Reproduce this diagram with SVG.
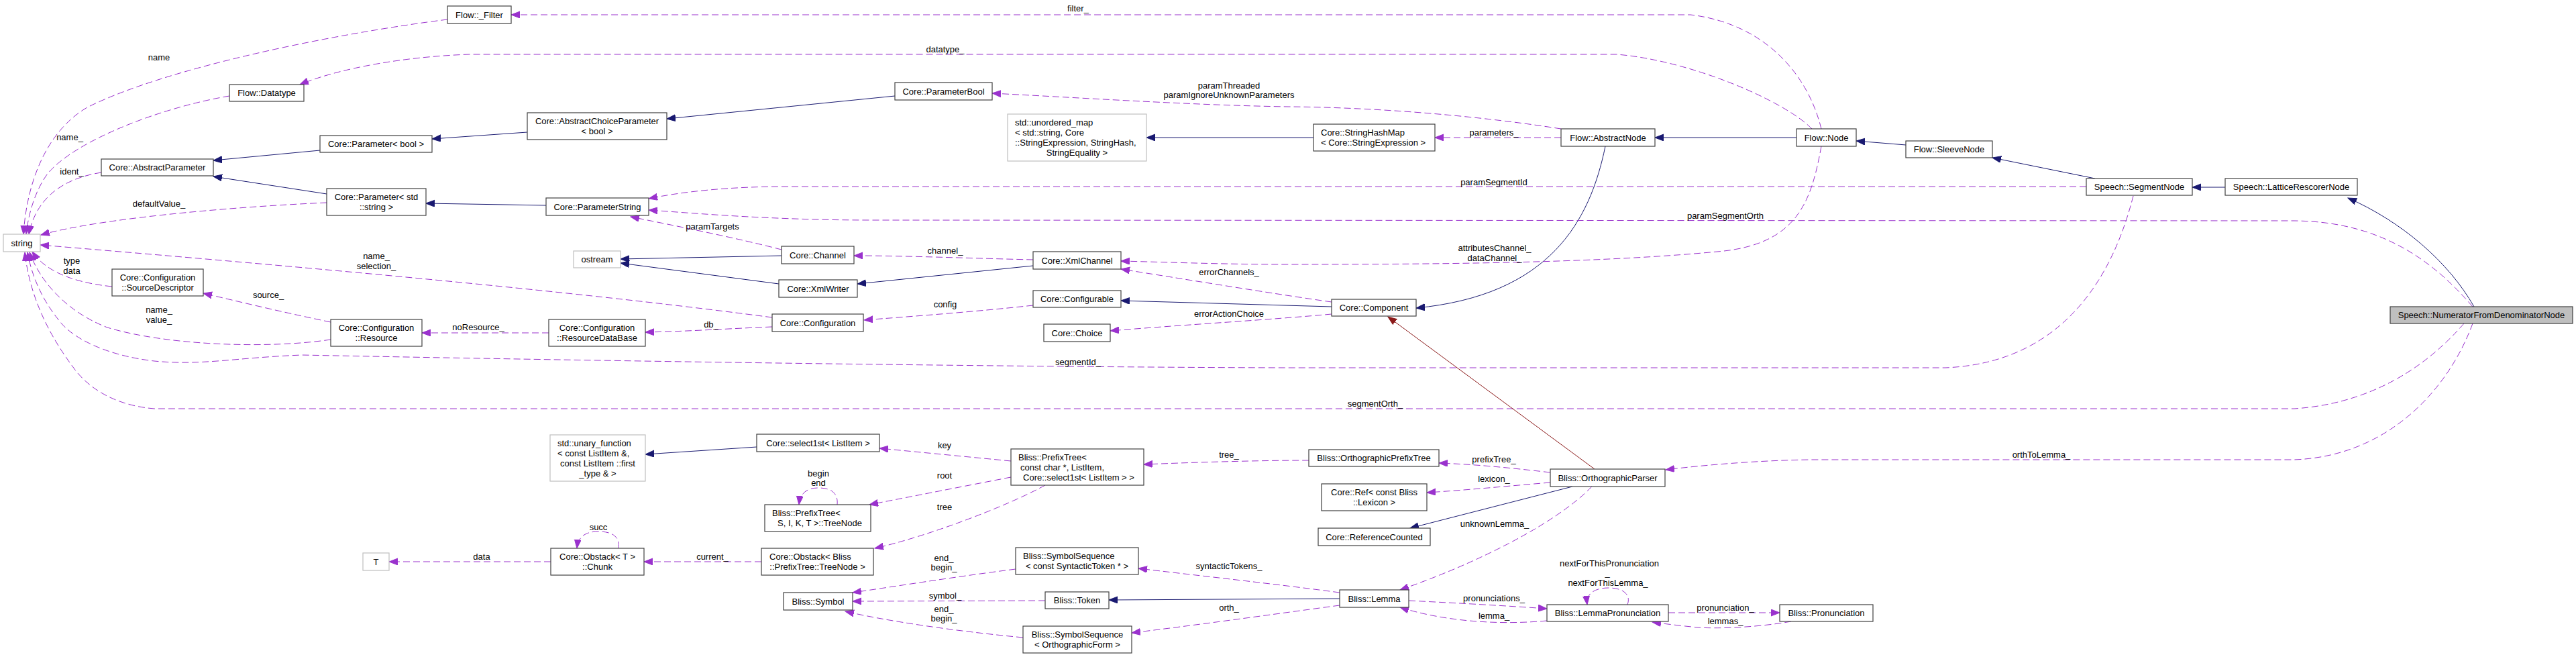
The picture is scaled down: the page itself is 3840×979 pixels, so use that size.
<svg xmlns="http://www.w3.org/2000/svg" width="3840" height="979" viewBox="0 0 3840 979">
<style>
text{font-family:"Liberation Sans",Arial,Helvetica,sans-serif;font-size:13px;fill:#000}
.n rect{fill:#fff;stroke:#404040;stroke-width:1.2}
.g rect{fill:#fff;stroke:#bfbfbf;stroke-width:1.2}
.t rect{fill:#bfbfbf;stroke:#404040;stroke-width:1.2}
.c{text-anchor:middle}
.s{text-anchor:start}
.u{fill:none;stroke:#9a32cd;stroke-width:1;stroke-dasharray:10,5;marker-end:url(#ap)}
.i{fill:none;stroke:#191970;stroke-width:1;marker-end:url(#ab)}
.p{fill:none;stroke:#8b1a1a;stroke-width:1;marker-end:url(#ar)}
.lb text{text-anchor:middle}
</style>
<defs>
<marker id="ap" markerUnits="userSpaceOnUse" markerWidth="14" markerHeight="12" refX="13" refY="5" orient="auto"><path d="M0,0 L13,5 L0,10 z" fill="#9a32cd" stroke="#9a32cd" stroke-width="1"/></marker>
<marker id="ab" markerUnits="userSpaceOnUse" markerWidth="14" markerHeight="12" refX="13" refY="5" orient="auto"><path d="M0,0 L13,5 L0,10 z" fill="#191970" stroke="#191970" stroke-width="1"/></marker>
<marker id="ar" markerUnits="userSpaceOnUse" markerWidth="14" markerHeight="12" refX="13" refY="5" orient="auto"><path d="M0,0 L13,5 L0,10 z" fill="#8b1a1a" stroke="#8b1a1a" stroke-width="1"/></marker>
</defs>
<rect width="3840" height="979" fill="#fff"/>

<g id="edges">
<path class="u" d="M2715,192 C2695,110 2630,35 2520,22 L762,22"/>
<path class="u" d="M667,29 C500,50 250,100 130,160 C70,195 40,270 35,349"/>
<path class="u" d="M2701,192 C2660,150 2520,90 2410,81 L700,81 C610,84 510,100 447,126"/>
<path class="u" d="M342,143 C240,160 110,210 70,260 C52,285 42,320 39,349"/>
<path class="u" d="M151,257 C100,265 55,290 43,349"/>
<path class="i" d="M477,224 L318,239"/>
<path class="i" d="M487,289 L318,263"/>
<path class="u" d="M487,302 C350,308 150,325 61,350"/>
<path class="i" d="M786,197 L644,207"/>
<path class="i" d="M1334,143 L994,177"/>
<path class="u" d="M2327,192 C2200,172 2050,160 1920,159 C1780,157 1600,145 1479,139"/>
<path class="i" d="M1958,205 L1709,205"/>
<path class="u" d="M2327,205 L2139,205"/>
<path class="i" d="M2678,205 L2467,205"/>
<path class="i" d="M2841,216 L2767,210"/>
<path class="i" d="M3123,266 L2970,235"/>
<path class="i" d="M3317,279 L3268,279"/>
<path class="i" d="M3688,457 C3650,390 3580,330 3500,295"/>
<path class="i" d="M2393,218 C2370,330 2310,440 2111,459"/>
<path class="u" d="M1985,450 C1900,438 1760,415 1671,401"/>
<path class="i" d="M1985,457 L1671,448"/>
<path class="u" d="M1985,468 C1900,476 1750,485 1655,493"/>
<path class="u" d="M2715,218 C2700,300 2680,365 2560,375 C2400,390 2200,394 1920,394 C1820,394 1720,390 1671,389"/>
<path class="u" d="M3110,278 L1171,278 C1090,278 1020,285 967,296"/>
<path class="u" d="M3686,457 C3620,380 3540,330 3420,329 L1300,328 C1150,328 1040,318 967,313"/>
<path class="u" d="M1165,372 C1100,355 1000,335 940,323"/>
<path class="u" d="M1540,387 C1450,385 1350,381 1273,381"/>
<path class="i" d="M1540,396 L1278,423"/>
<path class="i" d="M1165,381 L925,386"/>
<path class="i" d="M1161,423 L925,392"/>
<path class="i" d="M814,306 L635,303"/>
<path class="u" d="M1151,473 C900,440 600,410 60,365"/>
<path class="u" d="M1151,487 C1080,490 1020,494 962,495"/>
<path class="u" d="M1540,455 C1450,465 1350,472 1288,477"/>
<path class="u" d="M818,496 L629,496"/>
<path class="u" d="M493,480 C420,465 350,448 303,437"/>
<path class="u" d="M167,427 C100,420 65,400 48,375"/>
<path class="u" d="M493,506 C400,520 250,515 160,488 C100,465 60,420 44,376"/>
<path class="u" d="M3180,292 C3155,390 3090,540 2900,548 L1920,548 C1500,547 900,538 450,529 C350,533 300,545 230,538 C160,530 110,505 90,480 C65,450 48,415 41,376"/>
<path class="u" d="M3673,482 C3640,520 3560,600 3420,609 L230,609 C180,605 140,585 115,555 C80,510 45,450 37,376"/>
<path class="u" d="M3686,482 C3650,580 3560,680 3420,685 L2700,685 C2620,686 2540,693 2483,700"/>
<path class="i" d="M1128,666 L962,677"/>
<path class="u" d="M1507,687 L1311,668"/>
<path class="u" d="M1507,711 L1296,752"/>
<path class="u" d="M1558,723 C1500,755 1380,800 1304,817"/>
<path class="u" d="M1135,837 L960,837"/>
<path class="u" d="M821,837 L580,837"/>
<path class="u" d="M922,817 C925,795 905,792 892,792 C875,792 862,798 860,817"/>
<path class="u" d="M1248,752 C1250,732 1235,727 1220,727 C1205,727 1193,733 1191,752"/>
<path class="u" d="M2311,704 C2250,697 2200,692 2145,690"/>
<path class="u" d="M1951,686 C1870,686 1780,689 1705,692"/>
<path class="u" d="M2311,719 C2250,724 2190,730 2127,734"/>
<path class="i" d="M2344,725 L2102,787"/>
<path class="p" d="M2377,699 L2069,472"/>
<path class="u" d="M2373,725 C2320,780 2200,840 2087,879"/>
<path class="i" d="M1997,892 L1653,894"/>
<path class="u" d="M1997,883 C1900,870 1780,857 1697,847"/>
<path class="u" d="M1997,902 C1900,915 1780,932 1687,943"/>
<path class="u" d="M1514,848 C1420,860 1340,873 1271,883"/>
<path class="u" d="M1558,895 L1271,896"/>
<path class="u" d="M1525,950 C1420,940 1320,925 1260,911"/>
<path class="u" d="M2100,895 C2180,899 2250,903 2306,907"/>
<path class="u" d="M2306,925 C2230,932 2150,925 2087,905"/>
<path class="u" d="M2426,901 C2432,885 2418,876 2398,876 C2378,876 2364,884 2366,901"/>
<path class="u" d="M2487,913 L2653,913"/>
<path class="u" d="M2670,926 C2620,935 2560,937 2532,935 C2510,933 2485,930 2463,927"/>
</g>

<g id="labels" class="lb">
<text x="1607" y="16.5">filter_</text>
<text x="1409" y="77.5">datatype_</text>
<text x="237" y="89.5">name</text>
<text x="104" y="208.5">name_</text>
<text x="107" y="259.5">ident_</text>
<text x="237" y="307.5">defaultValue_</text>
<text x="561" y="385.5">name_</text>
<text x="561" y="400.5">selection_</text>
<text x="107" y="392.5">type</text>
<text x="107" y="407.5">data</text>
<text x="400" y="443.5">source_</text>
<text x="237" y="465.5">name_</text>
<text x="237" y="480.5">value_</text>
<text x="1832" y="131.5">paramThreaded</text>
<text x="1832" y="145.5">paramIgnoreUnknownParameters</text>
<text x="2227" y="201.5">parameters_</text>
<text x="2227" y="275.5">paramSegmentId</text>
<text x="2572" y="325.5">paramSegmentOrth</text>
<text x="1062" y="341.5">paramTargets</text>
<text x="1409" y="377.5">channel_</text>
<text x="2228" y="373.5">attributesChannel_</text>
<text x="2228" y="388.5">dataChannel_</text>
<text x="1832" y="409.5">errorChannels_</text>
<text x="1409" y="457.5">config</text>
<text x="1832" y="471.5">errorActionChoice</text>
<text x="713" y="491.5">noResource_</text>
<text x="1060" y="487.5">db_</text>
<text x="1607" y="543.5">segmentId_</text>
<text x="2050" y="605.5">segmentOrth_</text>
<text x="1408" y="667.5">key</text>
<text x="1832" y="681.5">tree_</text>
<text x="3043" y="681.5">orthToLemma_</text>
<text x="2227" y="688.5">prefixTree_</text>
<text x="1220" y="709.5">begin</text>
<text x="1220" y="723.5">end</text>
<text x="1408" y="712.5">root</text>
<text x="2227" y="717.5">lexicon_</text>
<text x="1408" y="759.5">tree</text>
<text x="2228" y="784.5">unknownLemma_</text>
<text x="892" y="789.5">succ</text>
<text x="718" y="833.5">data</text>
<text x="1062" y="833.5">current_</text>
<text x="1407" y="835.5">end_</text>
<text x="1407" y="849.5">begin_</text>
<text x="1832" y="847.5">syntacticTokens_</text>
<text x="2399" y="843.5">nextForThisPronunciation</text>
<text x="2396" y="858">_</text>
<text x="2397" y="872.5">nextForThisLemma_</text>
<text x="1409" y="891.5">symbol_</text>
<text x="2227" y="895.5">pronunciations_</text>
<text x="2572" y="909.5">pronunciation_</text>
<text x="1832" y="909.5">orth_</text>
<text x="1407" y="911.5">end_</text>
<text x="1407" y="925.5">begin_</text>
<text x="2227" y="921.5">lemma_</text>
<text x="2572" y="929.5">lemmas_</text>
</g>

<g id="n_numerator" class="t"><rect x="3563" y="457" width="272" height="25"/><text class="c" x="3699" y="474">Speech::NumeratorFromDenominatorNode</text></g>
<g id="n_lattice" class="n"><rect x="3317" y="266" width="197" height="25"/><text class="c" x="3415.5" y="283">Speech::LatticeRescorerNode</text></g>
<g id="n_segmentnode" class="n"><rect x="3110" y="266" width="158" height="25"/><text class="c" x="3189" y="283">Speech::SegmentNode</text></g>
<g id="n_sleevenode" class="n"><rect x="2841" y="210" width="129" height="25"/><text class="c" x="2905.5" y="227">Flow::SleeveNode</text></g>
<g id="n_flownode" class="n"><rect x="2678" y="192" width="89" height="26"/><text class="c" x="2722.5" y="209.5">Flow::Node</text></g>
<g id="n_abstractnode" class="n"><rect x="2327" y="192" width="140" height="26"/><text class="c" x="2397" y="209.5">Flow::AbstractNode</text></g>
<g id="n_stringhashmap" class="n"><rect x="1958" y="185" width="181" height="40"/><text class="s" x="1969" y="202">Core::StringHashMap</text><text class="s" x="1969" y="217">&lt; Core::StringExpression &gt;</text></g>
<g id="n_unordered_map" class="g"><rect x="1502" y="170" width="207" height="70"/><text class="s" x="1513" y="187">std::unordered_map</text><text class="s" x="1513" y="202">&lt; std::string, Core</text><text class="s" x="1513" y="217">::StringExpression, StringHash,</text><text class="c" x="1605.5" y="232">StringEquality &gt;</text></g>
<g id="n_parameterbool" class="n"><rect x="1334" y="123" width="145" height="26"/><text class="c" x="1406.5" y="140.5">Core::ParameterBool</text></g>
<g id="n_filter" class="n"><rect x="667" y="9" width="95" height="26"/><text class="c" x="714.5" y="26.5">Flow::_Filter</text></g>
<g id="n_datatype" class="n"><rect x="342" y="126" width="111" height="25"/><text class="c" x="397.5" y="143">Flow::Datatype</text></g>
<g id="n_abstractchoice" class="n"><rect x="786" y="168" width="208" height="40"/><text class="c" x="890" y="185">Core::AbstractChoiceParameter</text><text class="c" x="890" y="200">&lt; bool &gt;</text></g>
<g id="n_parameter_bool" class="n"><rect x="477" y="202" width="167" height="25"/><text class="c" x="560.5" y="219">Core::Parameter&lt; bool &gt;</text></g>
<g id="n_abstractparameter" class="n"><rect x="151" y="237" width="167" height="25"/><text class="c" x="234.5" y="254">Core::AbstractParameter</text></g>
<g id="n_parameter_string" class="n"><rect x="487" y="281" width="148" height="40"/><text class="c" x="561" y="298">Core::Parameter&lt; std</text><text class="c" x="561" y="313">::string &gt;</text></g>
<g id="n_parameterstring" class="n"><rect x="814" y="295" width="153" height="26"/><text class="c" x="890.5" y="312.5">Core::ParameterString</text></g>
<g id="n_string" class="g"><rect x="5" y="349" width="55" height="26"/><text class="c" x="32.5" y="366.5">string</text></g>
<g id="n_ostream" class="g"><rect x="855" y="374" width="70" height="25"/><text class="c" x="890" y="391">ostream</text></g>
<g id="n_channel" class="n"><rect x="1165" y="367" width="108" height="26"/><text class="c" x="1219" y="384.5">Core::Channel</text></g>
<g id="n_xmlwriter" class="n"><rect x="1161" y="417" width="117" height="26"/><text class="c" x="1219.5" y="434.5">Core::XmlWriter</text></g>
<g id="n_xmlchannel" class="n"><rect x="1540" y="375" width="131" height="26"/><text class="c" x="1605.5" y="392.5">Core::XmlChannel</text></g>
<g id="n_configurable" class="n"><rect x="1540" y="433" width="131" height="25"/><text class="c" x="1605.5" y="450">Core::Configurable</text></g>
<g id="n_choice" class="n"><rect x="1556" y="483" width="99" height="26"/><text class="c" x="1605.5" y="500.5">Core::Choice</text></g>
<g id="n_component" class="n"><rect x="1985" y="446" width="126" height="25"/><text class="c" x="2048" y="463">Core::Component</text></g>
<g id="n_configuration" class="n"><rect x="1151" y="468" width="136" height="26"/><text class="c" x="1219" y="485.5">Core::Configuration</text></g>
<g id="n_resourcedb" class="n"><rect x="818" y="476" width="144" height="40"/><text class="c" x="890" y="493">Core::Configuration</text><text class="c" x="890" y="508">::ResourceDataBase</text></g>
<g id="n_sourcedesc" class="n"><rect x="167" y="401" width="136" height="40"/><text class="c" x="235" y="418">Core::Configuration</text><text class="c" x="235" y="433">::SourceDescriptor</text></g>
<g id="n_resource" class="n"><rect x="493" y="476" width="136" height="40"/><text class="c" x="561" y="493">Core::Configuration</text><text class="c" x="561" y="508">::Resource</text></g>
<g id="n_unary_function" class="g"><rect x="820" y="648" width="142" height="69"/><text class="s" x="831" y="664.5">std::unary_function</text><text class="s" x="831" y="679.5">&lt; const ListItem &amp;,</text><text class="c" x="891" y="694.5">const ListItem ::first</text><text class="c" x="891" y="709.5">_type &amp; &gt;</text></g>
<g id="n_select1st" class="n"><rect x="1128" y="647" width="183" height="26"/><text class="c" x="1219.5" y="664.5">Core::select1st&lt; ListItem &gt;</text></g>
<g id="n_treenode" class="n"><rect x="1140" y="752" width="158" height="40"/><text class="s" x="1151" y="769">Bliss::PrefixTree&lt;</text><text class="c" x="1222" y="784">S, I, K, T &gt;::TreeNode</text></g>
<g id="n_chunk" class="n"><rect x="821" y="817" width="139" height="40"/><text class="c" x="890.5" y="834">Core::Obstack&lt; T &gt;</text><text class="c" x="890.5" y="849">::Chunk</text></g>
<g id="n_T" class="g"><rect x="541" y="824" width="39" height="26"/><text class="c" x="560.5" y="841.5">T</text></g>
<g id="n_obstack_treenode" class="n"><rect x="1135" y="817" width="167" height="40"/><text class="s" x="1147" y="834">Core::Obstack&lt; Bliss</text><text class="c" x="1218.5" y="849">::PrefixTree::TreeNode &gt;</text></g>
<g id="n_symbol" class="n"><rect x="1168" y="883" width="103" height="26"/><text class="c" x="1219.5" y="900.5">Bliss::Symbol</text></g>
<g id="n_prefixtree" class="n"><rect x="1507" y="669" width="198" height="54"/><text class="s" x="1518" y="685.5">Bliss::PrefixTree&lt;</text><text class="s" x="1521" y="700.5">const char *, ListItem,</text><text class="c" x="1608" y="715.5">Core::select1st&lt; ListItem &gt; &gt;</text></g>
<g id="n_symseq_synt" class="n"><rect x="1514" y="816" width="183" height="40"/><text class="s" x="1525" y="833">Bliss::SymbolSequence</text><text class="c" x="1605.5" y="848">&lt; const SyntacticToken * &gt;</text></g>
<g id="n_token" class="n"><rect x="1558" y="882" width="95" height="25"/><text class="c" x="1605.5" y="899">Bliss::Token</text></g>
<g id="n_symseq_orth" class="n"><rect x="1525" y="933" width="162" height="40"/><text class="c" x="1606" y="950">Bliss::SymbolSequence</text><text class="c" x="1606" y="965">&lt; OrthographicForm &gt;</text></g>
<g id="n_orthprefixtree" class="n"><rect x="1951" y="670" width="194" height="25"/><text class="c" x="2048" y="687">Bliss::OrthographicPrefixTree</text></g>
<g id="n_orthparser" class="n"><rect x="2311" y="699" width="171" height="26"/><text class="c" x="2396.5" y="716.5">Bliss::OrthographicParser</text></g>
<g id="n_ref_lexicon" class="n"><rect x="1970" y="721" width="157" height="40"/><text class="c" x="2048.5" y="738">Core::Ref&lt; const Bliss</text><text class="c" x="2048.5" y="753">::Lexicon &gt;</text></g>
<g id="n_refcounted" class="n"><rect x="1965" y="787" width="167" height="26"/><text class="c" x="2048.5" y="804.5">Core::ReferenceCounted</text></g>
<g id="n_lemma" class="n"><rect x="1997" y="879" width="103" height="26"/><text class="c" x="2048.5" y="896.5">Bliss::Lemma</text></g>
<g id="n_lemmapron" class="n"><rect x="2306" y="901" width="181" height="25"/><text class="c" x="2396.5" y="918">Bliss::LemmaPronunciation</text></g>
<g id="n_pronunciation" class="n"><rect x="2653" y="901" width="139" height="25"/><text class="c" x="2722.5" y="918">Bliss::Pronunciation</text></g>
</svg>
